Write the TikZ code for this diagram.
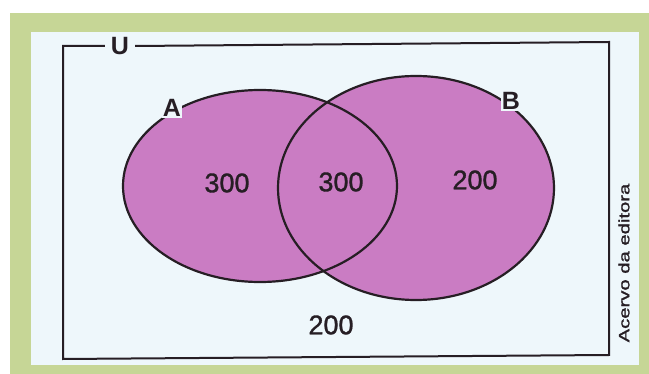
\documentclass[tikz,border=0pt]{standalone}
\usepackage{fontspec}
\setmainfont{Liberation Sans}
\newfontfamily\heavyfont[FakeBold=1.2]{Liberation Sans}
\definecolor{framegreen}{RGB}{198,214,150}
\definecolor{paper}{RGB}{238,247,251}
\definecolor{setfill}{RGB}{202,124,195}
\definecolor{ink}{RGB}{38,30,36}
\begin{document}
\begin{tikzpicture}[x=1pt,y=-1pt,
    setline/.style={ink,line width=2.2pt},
    setname/.style={ink,inner sep=1pt,font=\bfseries\fontsize{25}{25}\selectfont},
    count/.style={ink,font=\heavyfont\fontsize{27}{27}\selectfont}]
  \useasboundingbox (0,0) rectangle (649,374);
  % frame of the page
  \fill[white] (0,0) rectangle (649,374);
  \fill[framegreen] (10,13) rectangle (649,374);
  \fill[paper] (31,32) rectangle (639,365);
  % universe
  \node[setname,inner sep=6pt] (u) at (120,46) {U};
  \draw[setline,line width=2pt] (u.west) -- (63,46) -- (63,359) -- (609,355) -- (609,42) -- (u.east);
  % the two sets
  \fill[setfill] (260,186) ellipse [x radius=137,y radius=96];
  \fill[setfill] (416,188) ellipse [x radius=138,y radius=112];
  \draw[setline] (260,186) ellipse [x radius=137,y radius=96];
  \draw[setline] (416,188) ellipse [x radius=138,y radius=112];
  \node[setname,fill=paper] (a) at (172,108) {A};
  \node[setname,fill=paper] (b) at (511,101) {B};
  % counts
  \node[count] (onlyA) at (227,183) {300};
  \node[count] (both) at (341,182) {300};
  \node[count] (onlyB) at (475,180) {200};
  \node[count] (none) at (331,325) {200};
  \node[ink,rotate=90,font=\heavyfont\fontsize{15}{15}\selectfont] (credit) at (624,263)
    {\scalebox{1.35}[1]{Acervo da editora}};
\end{tikzpicture}
\end{document}
